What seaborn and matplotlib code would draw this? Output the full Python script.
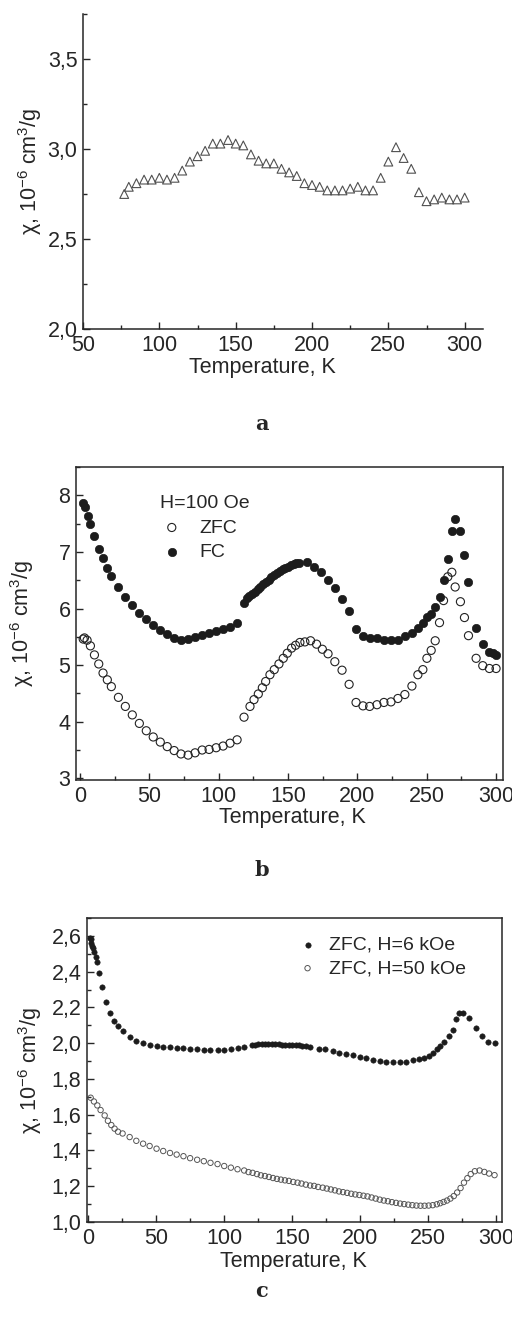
import matplotlib
matplotlib.use("Agg")
import matplotlib.pyplot as plt
import matplotlib.ticker as mticker
import seaborn as sns
import pandas as pd

# --- panel a: susceptibility, triangles ---
temp_a = [77, 80, 85, 90, 95, 100, 105, 110, 115, 120, 125, 130, 135, 140, 145,
          150, 155, 160, 165, 170, 175, 180, 185, 190, 195, 200, 205, 210, 215,
          220, 225, 230, 235, 240, 245, 250, 255, 260, 265, 270, 275, 280, 285,
          290, 295, 300]
chi_a = [2.75, 2.79, 2.81, 2.83, 2.83, 2.84, 2.83, 2.84, 2.88, 2.93, 2.96, 2.99,
         3.03, 3.03, 3.05, 3.03, 3.02, 2.97, 2.935, 2.92, 2.92, 2.89, 2.87, 2.85,
         2.81, 2.80, 2.79, 2.77, 2.77, 2.77, 2.78, 2.79, 2.77, 2.77, 2.84, 2.93,
         3.01, 2.95, 2.89, 2.76, 2.71, 2.72, 2.73, 2.72, 2.72, 2.73]

# --- panel b: H=100 Oe, FC and ZFC ---
temp_fc = [2.2, 3.8, 5.5, 7.4, 10.3, 13.7, 16.3, 19.4, 22.5, 27.6, 32.6, 37.6,
           42.7, 47.7, 52.7, 57.8, 62.8, 67.8, 72.7, 77.9, 82.9, 88.0, 93.0,
           98.1, 103.1, 108.1, 113.2, 118, 120, 122, 124, 126, 128, 130, 132,
           134, 136, 138, 140, 142, 144, 146, 148, 150, 152, 154, 156, 158,
           163.3, 168.6, 173.6, 178.8, 183.9, 188.9, 194.0, 199.0, 204.0, 208.8,
           214.1, 219.1, 224.2, 229.2, 234.2, 239.3, 243.6, 247.2, 250.1, 253.2,
           256.1, 259.2, 262.1, 265.2, 268.1, 270.5, 274.3, 277.2, 280.1, 285.6,
           290.4, 295.2, 298.1, 300]
chi_fc = [7.86, 7.79, 7.64, 7.50, 7.28, 7.06, 6.89, 6.72, 6.58, 6.38, 6.21, 6.06,
          5.92, 5.81, 5.71, 5.62, 5.55, 5.47, 5.44, 5.46, 5.49, 5.53, 5.56,
          5.60, 5.64, 5.68, 5.75, 6.09, 6.18, 6.22, 6.26, 6.30, 6.34, 6.38, 6.43,
          6.47, 6.51, 6.55, 6.59, 6.62, 6.66, 6.69, 6.72, 6.74, 6.77, 6.79, 6.80, 6.81,
          6.82, 6.74, 6.65, 6.51, 6.37, 6.16, 5.95, 5.64, 5.51, 5.47,
          5.47, 5.45, 5.45, 5.45, 5.51, 5.57, 5.65, 5.74, 5.85, 5.91,
          6.03, 6.21, 6.50, 6.88, 7.37, 7.59, 7.37, 6.95, 6.46, 5.66,
          5.37, 5.23, 5.21, 5.18]
temp_zfc = [2.2, 3.1, 5.0, 7.4, 10.3, 13.4, 16.5, 19.6, 22.5, 27.6, 32.6, 37.6,
            42.7, 47.7, 52.7, 57.8, 62.8, 67.8, 72.7, 77.9, 82.9, 88.0, 93.0,
            98.1, 103.1, 108.1, 113.2, 118.2, 122.5, 125.4, 128.5, 131.4, 133.8,
            136.9, 140.0, 143.4, 146.5, 149.4, 152.5, 155.4, 158.5, 162.1, 166.2,
            170.5, 174.7, 178.8, 183.7, 188.9, 194.0, 199.0, 204.0, 208.8, 214.1,
            219.1, 224.2, 229.2, 234.2, 239.3, 243.6, 247.2, 250.1, 253.2, 256.1,
            259.2, 262.1, 265.2, 268.1, 270.5, 274.3, 277.2, 280.1, 285.6, 290.4,
            295.2, 300]
chi_zfc = [5.46, 5.48, 5.44, 5.34, 5.18, 5.02, 4.86, 4.74, 4.62, 4.43, 4.27, 4.12,
           3.97, 3.84, 3.73, 3.64, 3.56, 3.49, 3.43, 3.41, 3.45, 3.50, 3.51,
           3.54, 3.57, 3.62, 3.68, 4.08, 4.27, 4.39, 4.49, 4.60, 4.71,
           4.83, 4.92, 5.02, 5.12, 5.21, 5.30, 5.35, 5.40, 5.41, 5.43,
           5.37, 5.28, 5.20, 5.06, 4.91, 4.66, 4.34, 4.28, 4.27, 4.30,
           4.34, 4.35, 4.41, 4.48, 4.63, 4.83, 4.92, 5.12, 5.26, 5.43,
           5.75, 6.14, 6.56, 6.64, 6.38, 6.12, 5.84, 5.52, 5.12, 4.99,
           4.94, 4.94]

# --- panel c: ZFC at 6 kOe and 50 kOe ---
temp_6k = [1.2, 1.7, 2.3, 2.9, 3.5, 4.1, 5.4, 6.1, 8.1, 10.3, 13.2, 16.2, 19.1,
           22.1, 25.2, 30.4, 35.3, 40.2, 45.1, 50.2, 55.1, 60.1, 65.0, 70.0, 74.9,
           80.1, 85.0, 89.9, 95.1, 100.0, 104.9, 109.8, 114.7, 120.1, 122.5, 125,
           127.5, 130, 132.5, 135, 137.5, 140, 142.5, 145, 147.5, 150, 152.5, 155,
           157.5, 160, 163.5, 169.6, 174.5, 179.9, 184.8, 189.7, 194.8, 199.7,
           204.6, 209.5, 214.4, 219.3, 224.2, 229.1, 234.0, 238.9, 243.1, 246.8,
           250.4, 253.6, 256.6, 259.1, 262.0, 265.2, 268.1, 270.3, 273.2, 276.1,
           279.9, 285.3, 289.7, 294.1, 299.5]
chi_6k = [2.59, 2.58, 2.56, 2.545, 2.53, 2.51, 2.48, 2.455, 2.39, 2.315, 2.23,
          2.17, 2.126, 2.094, 2.066, 2.033, 2.01, 2.0, 1.992, 1.986, 1.981, 1.977,
          1.974, 1.972, 1.968, 1.966, 1.964, 1.962, 1.962, 1.964, 1.968, 1.972,
          1.981, 1.99, 1.992, 1.993, 1.994, 1.994, 1.994, 1.994, 1.993, 1.993,
          1.992, 1.992, 1.991, 1.990, 1.989, 1.988, 1.986, 1.985, 1.981, 1.970,
          1.965, 1.956, 1.947, 1.938, 1.932, 1.925, 1.915, 1.908, 1.903, 1.897,
          1.895, 1.895, 1.895, 1.904, 1.911, 1.917, 1.926, 1.943, 1.965, 1.987,
          2.006, 2.04, 2.072, 2.134, 2.17, 2.17, 2.139, 2.083, 2.04, 2.006, 1.999]
temp_50k = [1.7, 4.1, 6.6, 9.0, 12.0, 14.4, 16.9, 19.3, 21.8, 25.2, 30.4, 35.3,
            40.3, 45.1, 50.2, 55.1, 60.1, 65.0, 70.0, 74.9, 80.1, 85.0, 89.9,
            95.1, 100.0, 104.9, 109.8, 114.7, 117.9, 120.9, 124.1, 127.0, 130.0,
            132.9, 135.9, 138.8, 141.7, 144.7, 147.6, 150.8, 154.0, 156.9, 160.1,
            163.3, 166.2, 169.1, 172.5, 175.5, 178.5, 181.5, 184.5, 187.5, 190.5,
            193.5, 196.5, 199.5, 202.5, 205.5, 208.5, 211.5, 214.5, 217.5, 220.5,
            223.5, 226.5, 229.5, 232.5, 235.5, 238.5, 241.5, 244.5, 247.5, 250.5,
            253.5, 256.5, 259.0, 261.5, 264.0, 266.5, 269.0, 271.5, 274.0, 276.5,
            279.0, 281.5, 284.5, 288.0, 291.5, 295.0, 299.0]
chi_50k = [1.695, 1.674, 1.652, 1.626, 1.596, 1.566, 1.542, 1.522, 1.505, 1.495,
           1.475, 1.454, 1.438, 1.425, 1.41, 1.397, 1.386, 1.377, 1.368, 1.357,
           1.348, 1.34, 1.331, 1.324, 1.313, 1.304, 1.295, 1.288, 1.279, 1.275,
           1.268, 1.261, 1.257, 1.252, 1.246, 1.241, 1.237, 1.233, 1.23, 1.224,
           1.22, 1.215, 1.209, 1.204, 1.202, 1.196, 1.192, 1.187, 1.182, 1.177,
           1.171, 1.167, 1.163, 1.158, 1.154, 1.151, 1.147, 1.143, 1.137, 1.131,
           1.125, 1.120, 1.116, 1.111, 1.107, 1.103, 1.100, 1.097, 1.094, 1.092,
           1.091, 1.091, 1.092, 1.094, 1.099, 1.105, 1.112, 1.120, 1.131, 1.145,
           1.165, 1.190, 1.220, 1.245, 1.268, 1.284, 1.288, 1.280, 1.271, 1.262]

ylab = r"χ, 10$^{\mathregular{-6}}$ cm$^{\mathregular{3}}$/g"
xlab = "Temperature, K"

sns.set_style("ticks")
plt.rcParams["font.family"] = ["Liberation Sans", "DejaVu Sans"]
plt.rcParams["mathtext.fontset"] = "custom"
plt.rcParams["mathtext.rm"] = "Liberation Sans"
plt.rcParams["axes.linewidth"] = 1.1

FS = 15.5
comma = mticker.FuncFormatter(lambda v, p: f"{v:.1f}".replace(".", ","))

fig = plt.figure(figsize=(5.12, 13.22), dpi=100)
W, H = 512, 1322


def add_ax(left, top, right, bottom):
    ax = fig.add_axes([left / W, 1 - bottom / H, (right - left) / W, (bottom - top) / H])
    ax.box_px = (left, top, right, bottom)
    return ax


def style(ax, xlab_px, ylab_x):
    left, top, right, bottom = ax.box_px
    ax.tick_params(which="both", direction="in", width=1.0, labelsize=FS,
                   top=False, right=False, pad=4)
    ax.tick_params(which="major", length=5)
    ax.tick_params(which="minor", length=3)
    ax.set_xlabel(xlab, fontsize=FS, va="center", ha="center")
    ax.set_ylabel(ylab, fontsize=FS, va="center", ha="center")
    ax.xaxis.set_label_coords((xlab_px[0] - left) / (right - left),
                              (bottom - xlab_px[1]) / (bottom - top))
    ax.yaxis.set_label_coords((ylab_x - left) / (right - left), 0.5)


# panel a
ax = add_ax(83, 14, 483, 329)
df_a = pd.DataFrame({"T": temp_a, "chi": chi_a})
sns.scatterplot(data=df_a, x="T", y="chi", ax=ax, marker="^", s=40,
                facecolors="none", edgecolor="#505050", linewidth=0.8)
ax.set_xlim(50, 312)
ax.set_ylim(2.0, 3.75)
ax.xaxis.set_major_locator(mticker.MultipleLocator(50))
ax.xaxis.set_minor_locator(mticker.MultipleLocator(25))
ax.yaxis.set_major_locator(mticker.MultipleLocator(0.5))
ax.yaxis.set_minor_locator(mticker.MultipleLocator(0.25))
ax.yaxis.set_major_formatter(comma)
sns.despine(ax=ax)
style(ax, (262, 368), 30)

# panel b
ax = add_ax(76, 467, 503, 780)
df_zfc = pd.DataFrame({"T": temp_zfc, "chi": chi_zfc})
df_fc = pd.DataFrame({"T": temp_fc, "chi": chi_fc})
sns.scatterplot(data=df_zfc, x="T", y="chi", ax=ax, marker="o", s=34,
                facecolors="none", edgecolor="#222222", linewidth=0.8, label="ZFC")
sns.scatterplot(data=df_fc, x="T", y="chi", ax=ax, marker="o", s=36,
                color="#1c1c1c", edgecolor="#1c1c1c", linewidth=0.5, label="FC")
ax.set_xlim(-3, 305)
ax.set_ylim(2.97, 8.5)
ax.xaxis.set_major_locator(mticker.MultipleLocator(50))
ax.xaxis.set_minor_locator(mticker.MultipleLocator(25))
ax.yaxis.set_major_locator(mticker.MultipleLocator(1))
ax.yaxis.set_minor_locator(mticker.MultipleLocator(0.5))
style(ax, (292, 818), 22)
ax.legend(title="H=100 Oe", loc="upper left", bbox_to_anchor=(0.197, 0.91),
          frameon=False, fontsize=14, title_fontsize=14, handlelength=1.2,
          handletextpad=0.8, labelspacing=0.35, borderpad=0, borderaxespad=0,
          alignment="left")

# panel c
ax = add_ax(87, 918, 502, 1222)
df_6k = pd.DataFrame({"T": temp_6k, "chi": chi_6k})
df_50k = pd.DataFrame({"T": temp_50k, "chi": chi_50k})
sns.scatterplot(data=df_6k, x="T", y="chi", ax=ax, marker="o", s=15,
                color="#1c1c1c", edgecolor="#1c1c1c", linewidth=0.4, label="ZFC, H=6 kOe")
sns.scatterplot(data=df_50k, x="T", y="chi", ax=ax, marker="o", s=15,
                facecolors="none", edgecolor="#555555", linewidth=0.7, label="ZFC, H=50 kOe")
ax.set_xlim(-1, 304.5)
ax.set_ylim(1.0, 2.7)
ax.xaxis.set_major_locator(mticker.MultipleLocator(50))
ax.xaxis.set_minor_locator(mticker.MultipleLocator(25))
ax.yaxis.set_major_locator(mticker.MultipleLocator(0.2))
ax.yaxis.set_minor_locator(mticker.MultipleLocator(0.1))
ax.yaxis.set_major_formatter(comma)
style(ax, (293, 1262), 30)
ax.legend(loc="upper left", bbox_to_anchor=(0.508, 0.94), frameon=False,
          fontsize=14, handlelength=1.0, handletextpad=0.6, labelspacing=0.3,
          borderpad=0, borderaxespad=0)

# panel letters
for letter, ypix in [("a", 424), ("b", 870), ("c", 1291)]:
    fig.text(262 / W, 1 - ypix / H, letter, ha="center", va="center",
             fontsize=15, fontweight="bold", family="DejaVu Serif")

fig.savefig("out.png", dpi=100)
